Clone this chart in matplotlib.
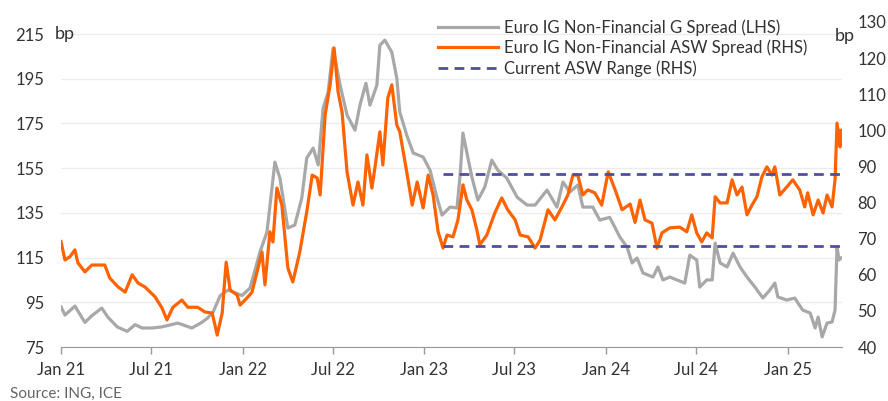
import matplotlib
matplotlib.use('Agg')
import matplotlib.pyplot as plt
import matplotlib.dates as mdates
import pandas as pd

# Euro IG Non-Financial G spread (LHS, bp)
g_dates = ['2021-01-01', '2021-01-09', '2021-01-29', '2021-02-18', '2021-03-04', '2021-03-24',
           '2021-04-05', '2021-04-24', '2021-05-14', '2021-05-30', '2021-06-13', '2021-07-03',
           '2021-07-23', '2021-08-24', '2021-09-21', '2021-10-11', '2021-10-23', '2021-11-03',
           '2021-11-17', '2021-12-03', '2021-12-31', '2022-01-16', '2022-02-05', '2022-02-19',
           '2022-03-07', '2022-03-17', '2022-04-02', '2022-04-16', '2022-04-30', '2022-05-10',
           '2022-05-23', '2022-06-02', '2022-06-12', '2022-06-22', '2022-07-02', '2022-07-16',
           '2022-07-30', '2022-08-15', '2022-08-25', '2022-09-06', '2022-09-14', '2022-09-28',
           '2022-10-04', '2022-10-14', '2022-10-28', '2022-11-07', '2022-11-13', '2022-11-27',
           '2022-12-10', '2022-12-30', '2023-01-13', '2023-01-27', '2023-02-06', '2023-02-22',
           '2023-03-08', '2023-03-14', '2023-03-20', '2023-03-28', '2023-04-07', '2023-04-19',
           '2023-05-03', '2023-05-17', '2023-05-29', '2023-06-16', '2023-07-07', '2023-07-27',
           '2023-08-12', '2023-09-05', '2023-09-25', '2023-10-07', '2023-10-21', '2023-11-06',
           '2023-11-16', '2023-12-06', '2023-12-20', '2024-01-09', '2024-01-30', '2024-02-13',
           '2024-02-23', '2024-03-04', '2024-03-16', '2024-04-05', '2024-04-15', '2024-04-25',
           '2024-05-09', '2024-05-23', '2024-06-08', '2024-06-18', '2024-07-02', '2024-07-08',
           '2024-07-22', '2024-08-02', '2024-08-08', '2024-08-18', '2024-09-01', '2024-09-13',
           '2024-09-27', '2024-10-11', '2024-10-27', '2024-11-12', '2024-11-26', '2024-12-06',
           '2024-12-12', '2024-12-30', '2025-01-15', '2025-01-31', '2025-02-15', '2025-02-25',
           '2025-03-03', '2025-03-11', '2025-03-21', '2025-03-31', '2025-04-06', '2025-04-10',
           '2025-04-14', '2025-04-18']
g_spread = [93.0, 89.3, 93.3, 86.0, 89.0, 92.4,
            88.4, 84.0, 82.0, 85.0, 83.5, 83.5,
            84.0, 85.7, 83.5, 86.0, 88.0, 90.7,
            98.0, 100.5, 98.0, 101.4, 117.5, 126.4,
            157.7, 150.6, 128.2, 129.6, 141.6, 159.5,
            164.0, 156.4, 181.9, 189.0, 208.7, 192.2,
            178.8, 172.0, 183.2, 193.0, 183.2, 192.2,
            210.0, 212.3, 206.9, 195.3, 180.1, 169.8,
            161.8, 160.0, 154.0, 141.6, 134.0, 137.6,
            137.2, 151.0, 170.7, 161.8, 151.0, 140.7,
            146.6, 158.6, 154.1, 150.6, 142.0, 138.5,
            138.5, 145.2, 137.6, 148.8, 144.3, 147.5,
            137.6, 137.6, 131.8, 133.0, 124.0, 119.7,
            112.6, 114.8, 108.1, 106.3, 110.8, 105.0,
            106.3, 105.0, 103.6, 116.1, 113.9, 101.8,
            105.0, 105.0, 121.5, 112.6, 110.8, 117.0,
            110.8, 106.3, 101.8, 96.9, 100.5, 103.6,
            97.4, 96.0, 96.9, 91.5, 90.2, 83.5,
            88.4, 79.5, 85.7, 86.2, 91.5, 119.7,
            113.9, 114.8]

# Euro IG Non-Financial ASW spread (RHS, bp)
asw_dates = ['2021-01-01', '2021-01-09', '2021-01-19', '2021-01-29', '2021-02-04', '2021-02-18',
             '2021-03-04', '2021-03-30', '2021-04-09', '2021-04-26', '2021-05-10', '2021-05-24',
             '2021-06-05', '2021-06-19', '2021-07-09', '2021-07-23', '2021-08-02', '2021-08-14',
             '2021-09-01', '2021-09-13', '2021-10-03', '2021-10-17', '2021-11-01', '2021-11-11',
             '2021-11-21', '2021-11-29', '2021-12-07', '2021-12-21', '2021-12-27', '2022-01-10',
             '2022-01-20', '2022-02-09', '2022-02-15', '2022-02-25', '2022-03-03', '2022-03-11',
             '2022-03-21', '2022-04-02', '2022-04-12', '2022-04-26', '2022-05-10', '2022-05-21',
             '2022-05-31', '2022-06-06', '2022-06-16', '2022-06-26', '2022-07-04', '2022-07-12',
             '2022-07-20', '2022-07-30', '2022-08-11', '2022-08-21', '2022-08-31', '2022-09-08',
             '2022-09-18', '2022-09-24', '2022-10-04', '2022-10-10', '2022-10-20', '2022-10-28',
             '2022-11-07', '2022-11-13', '2022-11-27', '2022-12-08', '2022-12-18', '2022-12-30',
             '2023-01-09', '2023-01-19', '2023-01-29', '2023-02-08', '2023-02-16', '2023-02-28',
             '2023-03-10', '2023-03-20', '2023-03-28', '2023-04-07', '2023-04-17', '2023-04-23',
             '2023-05-07', '2023-05-23', '2023-06-06', '2023-06-18', '2023-07-03', '2023-07-13',
             '2023-07-29', '2023-08-12', '2023-08-22', '2023-09-07', '2023-09-21', '2023-10-05',
             '2023-10-17', '2023-10-27', '2023-11-06', '2023-11-16', '2023-11-26', '2023-12-10',
             '2023-12-24', '2024-01-06', '2024-01-20', '2024-02-03', '2024-02-19', '2024-02-29',
             '2024-03-10', '2024-03-20', '2024-04-03', '2024-04-13', '2024-04-23', '2024-05-09',
             '2024-05-29', '2024-06-12', '2024-06-22', '2024-07-02', '2024-07-12', '2024-07-22',
             '2024-08-02', '2024-08-08', '2024-08-18', '2024-09-01', '2024-09-11', '2024-09-21',
             '2024-10-01', '2024-10-11', '2024-10-21', '2024-10-31', '2024-11-10', '2024-11-20',
             '2024-11-30', '2024-12-06', '2024-12-16', '2024-12-30', '2025-01-11', '2025-01-25',
             '2025-02-04', '2025-02-10', '2025-02-21', '2025-03-03', '2025-03-13', '2025-03-21',
             '2025-03-31', '2025-04-06', '2025-04-10', '2025-04-16', '2025-04-18']
asw_spread = [69.2, 64.1, 65.0, 66.9, 63.3, 60.8,
              62.7, 62.7, 59.1, 56.6, 55.2, 60.0,
              57.7, 56.6, 53.9, 50.8, 47.5, 51.0,
              53.0, 51.0, 51.0, 49.7, 49.4, 43.3,
              49.4, 63.5, 55.8, 54.4, 51.6, 53.6,
              55.2, 66.3, 57.2, 71.9, 69.1, 84.0,
              79.3, 61.9, 58.0, 66.3, 77.4, 87.6,
              86.8, 82.1, 104.3, 112.6, 122.8, 110.6,
              105.1, 88.5, 79.3, 85.7, 79.3, 93.2,
              84.0, 89.6, 99.6, 90.4, 109.0, 112.6,
              101.5, 99.6, 88.5, 79.3, 85.7, 78.5,
              87.6, 82.1, 72.0, 67.4, 71.0, 70.5,
              75.2, 84.9, 80.7, 78.0, 72.4, 68.3,
              71.0, 77.1, 81.3, 78.0, 75.2, 71.0,
              70.5, 67.4, 69.6, 78.0, 75.2, 78.8,
              82.1, 87.6, 87.6, 82.1, 83.5, 82.7,
              79.3, 88.5, 83.5, 78.0, 79.6, 74.5,
              80.7, 75.2, 74.3, 67.4, 71.6, 73.0,
              73.2, 71.9, 76.6, 71.6, 69.1, 71.6,
              70.2, 81.6, 79.9, 79.9, 86.3, 82.1,
              84.3, 76.6, 79.3, 81.6, 87.1, 89.9,
              87.6, 89.9, 82.1, 84.3, 86.3, 83.5,
              78.8, 82.7, 76.6, 80.7, 77.1, 82.1,
              78.8, 86.3, 102.0, 95.4, 100.0]

# Current ASW range (RHS)
range_start = '2023-02-08'
range_end = '2025-04-20'
range_low = 68
range_high = 88

left_ticks = [75, 95, 115, 135, 155, 175, 195, 215]
right_ticks = [40, 50, 60, 70, 80, 90, 100, 110, 120, 130]

GREY = '#a8a8a8'
ORANGE = '#ff6200'
NAVY = '#4f4f9e'
TXT = '#333333'

plt.rcParams['font.family'] = ['Lato', 'DejaVu Sans']
plt.rcParams['font.size'] = 12

g_x = pd.to_datetime(g_dates)
a_x = pd.to_datetime(asw_dates)
r_x = pd.to_datetime([range_start, range_end])

fig = plt.figure(figsize=(8.88, 4.01), dpi=100)
ax = fig.add_axes([61 / 888, 1 - 347 / 401, 781 / 888, 325 / 401])
ax2 = ax.twinx()

ax.plot(g_x, g_spread, color=GREY, lw=2.3, label='Euro IG Non-Financial G Spread (LHS)')
l2, = ax2.plot(a_x, asw_spread, color=ORANGE, lw=2.3, label='Euro IG Non-Financial ASW Spread (RHS)')
l3, = ax2.plot(r_x, [range_high, range_high], color=NAVY, lw=2.0, ls=(0, (3.5, 2.3)),
               label='Current ASW Range (RHS)')
ax2.plot(r_x, [range_low, range_low], color=NAVY, lw=2.0, ls=(0, (3.5, 2.3)))

ax.set_ylim(75, 220.4)
ax2.set_ylim(40, 130)
ax.set_xlim(pd.Timestamp('2021-01-01'), pd.Timestamp('2025-04-20'))
ax.set_yticks(left_ticks)
ax2.set_yticks(right_ticks)

ax.xaxis.set_major_locator(mdates.MonthLocator(bymonth=[1, 7]))
ax.xaxis.set_major_formatter(mdates.DateFormatter('%b %y'))

ax.grid(axis='y', color='#ececec', lw=1)
ax.set_axisbelow(True)
for a in (ax, ax2):
    for s in ('top', 'left', 'right', 'bottom'):
        a.spines[s].set_visible(False)
ax.spines['bottom'].set_visible(True)
ax.spines['bottom'].set_color('#999999')
ax.tick_params(axis='x', colors='#999999', length=5, width=1, labelcolor=TXT, pad=6)
ax.tick_params(axis='y', length=0, labelcolor=TXT, pad=12)
ax2.tick_params(axis='y', length=0, labelcolor=TXT, pad=11)

fig.text(55 / 888, 1 - 34 / 401, 'bp', ha='left', va='center', color=TXT, fontsize=13)
fig.text(835 / 888, 1 - 36 / 401, 'bp', ha='left', va='center', color=TXT, fontsize=13)
fig.text(10 / 888, 1 - 394 / 401, 'Source: ING, ICE', ha='left', va='center', color='#666666', fontsize=11)

h1, lab1 = ax.get_legend_handles_labels()
fig.legend(h1 + [l2, l3], lab1 + [l2.get_label(), l3.get_label()],
           loc='upper left', bbox_to_anchor=(438 / 888, 1 - 19 / 401), frameon=False,
           handlelength=3.6, handletextpad=0.35, labelspacing=0.25, borderpad=0,
           borderaxespad=0, labelcolor=TXT)

fig.savefig('out.png', dpi=100)
